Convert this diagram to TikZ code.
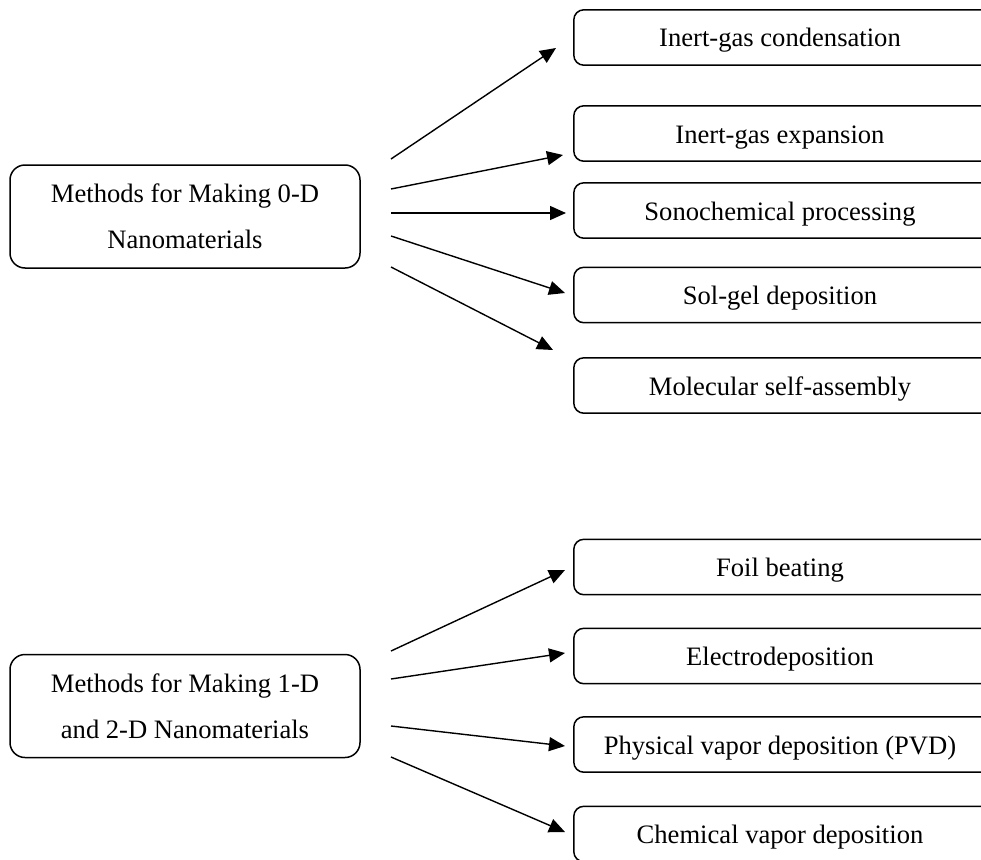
\documentclass[tikz,border=0pt]{standalone}
\usepackage{fontspec}
\setmainfont{Liberation Serif}
\usetikzlibrary{arrows.meta}
\begin{document}
\begin{tikzpicture}[x=1pt,y=-1pt,
  mainbox/.style={draw, line width=1.5pt, rounded corners=15pt, minimum width=350pt, minimum height=103pt, inner sep=0pt, align=center, font=\fontsize{26.6}{46}\selectfont},
  itemtext/.style={minimum width=412pt, minimum height=55pt, inner sep=0pt, text height=19pt, text depth=0pt, font=\fontsize{26.6}{32}\selectfont},
  itemframe/.style={draw, line width=1.5pt, rounded corners=10pt},
  arr/.style={line width=1.4pt, -{Triangle[length=16pt,width=14pt]}}]
\useasboundingbox (0,0) rectangle (981,859);

% top group
\node[mainbox] (L1) at (185,216.5) {Methods for Making 0-D\\Nanomaterials};
\node[itemtext] (R1) at (780,37.5) {Inert-gas condensation};
\node[itemtext] (R2) at (780,133.5) {Inert-gas expansion};
\node[itemtext] (R3) at (780,210.5) {Sonochemical processing};
\node[itemtext] (R4) at (780,295) {Sol-gel deposition};
\node[itemtext] (R5) at (780,385.5) {Molecular self-assembly};
\foreach \n in {R1,R2,R3,R4,R5}
  \draw[itemframe] (\n.north west) rectangle ([xshift=30pt]\n.south east);

\coordinate (s1) at (391,159);  \coordinate (t1) at (556,48);
\coordinate (s2) at (391,189);  \coordinate (t2) at (563,155);
\coordinate (s3) at (391,213);  \coordinate (t3) at (566,213);
\coordinate (s4) at (391,236);  \coordinate (t4) at (565,293);
\coordinate (s5) at (391,267);  \coordinate (t5) at (553,350);
\draw[arr] (s1) -- (t1);
\draw[arr] (s2) -- (t2);
\draw[arr] (s3) -- (t3);
\draw[arr] (s4) -- (t4);
\draw[arr] (s5) -- (t5);

% bottom group
\node[mainbox] (L2) at (185,706) {Methods for Making 1-D\\and 2-D Nanomaterials};
\node[itemtext] (Q1) at (780,567) {Foil beating};
\node[itemtext] (Q2) at (780,656) {Electrodeposition};
\node[itemtext] (Q3) at (780,744.5) {Physical vapor deposition (PVD)};
\node[itemtext] (Q4) at (780,834) {Chemical vapor deposition};
\foreach \n in {Q1,Q2,Q3,Q4}
  \draw[itemframe] (\n.north west) rectangle ([xshift=30pt]\n.south east);

\coordinate (u1) at (391,651);  \coordinate (v1) at (565,570);
\coordinate (u2) at (391,679);  \coordinate (v2) at (565,653);
\coordinate (u3) at (391,726);  \coordinate (v3) at (565,746);
\coordinate (u4) at (391,757);  \coordinate (v4) at (565,832);
\draw[arr] (u1) -- (v1);
\draw[arr] (u2) -- (v2);
\draw[arr] (u3) -- (v3);
\draw[arr] (u4) -- (v4);
\end{tikzpicture}
\end{document}
